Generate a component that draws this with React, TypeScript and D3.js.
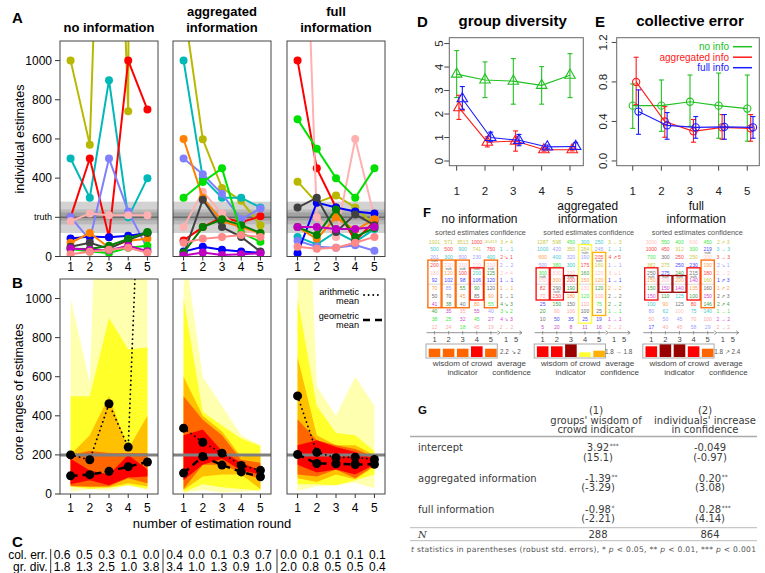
import * as d3 from "d3";

const FONT = "'Liberation Sans', Arial, Helvetica, sans-serif";
const FONT_G = "'DejaVu Sans', 'Liberation Sans', sans-serif";

// ---------- data ----------
const rounds = [1, 2, 3, 4, 5];
const groupTitles = [["no information"], ["aggregated", "information"], ["full", "information"]];
// olive, cyan, red, lavender, pink, blue, orange, dark gray, dark green, green, magenta, salmon
const personColors = ["#b8b800", "#00b8b8", "#ff0000", "#8080ff", "#ffb0b0", "#0000ff",
  "#ff8000", "#404040", "#008000", "#00e000", "#c000c0", "#ff8888"];

const estNoInfo = [
  [1001, 571, 3513, 741, 30413],
  [500, 300, 900, 200, 400],
  [200, 500, 100, 1000, 750],
  [201, 85, 500, 230, 40],
  [180, 220, 210, 210, 210],
  [92, 102, 98, 106, 120],
  [70, 120, 45, 80, 90],
  [50, 70, 40, 85, 120],
  [40, 38, 55, 90, 125],
  [38, 25, 18, 45, 55],
  [41, 35, 32, 55, 27],
  [12, 24, 35, 45, 19],
];
const estAggInfo = [
  [1287, 598, 350, 284, 160],
  [1000, 400, 300, 300, 250],
  [82, 150, 200, 175, 205],
  [500, 420, 320, 190, 245],
  [150, 330, 220, 130, 120],
  [25, 50, 35, 25, 19],
  [600, 300, 180, 150, 120],
  [10, 290, 150, 100, 25],
  [20, 150, 190, 160, 120],
  [300, 380, 450, 120, 75],
  [5, 20, 8, 11, 16],
  [70, 90, 100, 110, 100],
];
const estFullInfo = [
  [382, 275, 312, 250, 160],
  [100, 62, 125, 75, 140],
  [1000, 450, 250, 80, 180],
  [80, 50, 45, 58, 29],
  [3000, 200, 100, 600, 200],
  [17, 275, 250, 230, 219],
  [150, 90, 200, 135, 190],
  [250, 300, 125, 215, 160],
  [150, 110, 240, 100, 146],
  [700, 550, 400, 300, 450],
  [150, 150, 140, 140, 150],
  [50, 40, 45, 70, 100],
];
const truth = 200;
const truthBands = [[120, 280, "#d2d2d2"], [164, 240, "#bababa"], [184, 225, "#a2a2a2"]];
const coreBandColors = ["#ffffb0", "#ffff2a", "#ffc000", "#ff6600", "#ff0000"];

const arithNoInfo = [200, 175, 462, 240, 2700];
const arithAggInfo = [337, 265, 209, 146, 121];
const arithFullInfo = [502, 213, 186, 188, 177];
const geoNoInfo = [93, 99, 116, 140, 164];
const geoAggInfo = [107, 192, 148, 113, 88];
const geoFullInfo = [202, 156, 155, 151, 152];

const colErr = [[0.6, 0.5, 0.3, 0.1, 0.0], [0.4, 0.0, 0.1, 0.3, 0.7], [0.0, 0.1, 0.1, 0.1, 0.1]];
const grDiv = [[1.8, 1.3, 2.5, 1.0, 3.8], [3.4, 1.0, 1.3, 0.9, 1.0], [2.0, 0.8, 0.5, 0.5, 0.4]];

// D: group diversity
const divNoInfo = [3.7, 3.45, 3.4, 3.22, 3.65];
const divNoInfoLo = [2.7, 2.7, 2.42, 2.42, 2.7];
const divNoInfoHi = [4.7, 4.22, 4.36, 4.02, 4.57];
const divAggInfo = [2.27, 0.8, 0.85, 0.48, 0.48];
const divAggInfoLo = [1.77, 0.6, 0.42, 0.42, 0.43];
const divAggInfoHi = [2.8, 1.03, 1.28, 0.56, 0.55];
const divFullInfo = [2.65, 1.0, 0.88, 0.6, 0.62];
const divFullInfoLo = [2.2, 0.82, 0.65, 0.52, 0.5];
const divFullInfoHi = [3.17, 1.23, 1.13, 0.68, 0.78];

// E: collective error
const errNoInfo = [0.56, 0.56, 0.6, 0.56, 0.53];
const errNoInfoLo = [0.33, 0.3, 0.35, 0.23, 0.2];
const errNoInfoHi = [0.78, 0.82, 0.87, 0.89, 0.87];
const errAggInfo = [0.8, 0.4, 0.3, 0.34, 0.33];
const errAggInfoLo = [0.57, 0.24, 0.19, 0.22, 0.2];
const errAggInfoHi = [1.05, 0.55, 0.42, 0.47, 0.47];
const errFullInfo = [0.5, 0.36, 0.34, 0.345, 0.34];
const errFullInfoLo = [0.27, 0.22, 0.23, 0.22, 0.23];
const errFullInfoHi = [0.72, 0.49, 0.45, 0.47, 0.45];

const seriesColors = ["#22c022", "#ff1a1a", "#1a1aff"];
const legendLabels = ["no info", "aggregated info", "full info"];

// F: wisdom of crowd levels per round
const levelNoInfo = ["orange", "orange", "orange", "red", "orange"];
const levelAggInfo = ["red", "red", "darkred", "yellow", "gold"];
const levelFullInfo = ["red", "darkred", "darkred", "red", "orange"];
const confNoInfo = ["3 ↗ 4", "1 → 1", "2 ↘ 1", "2 → 2", "2 ↗ 4", "1 → 1", "1 → 1", "1 → 1", "4 ↘ 3", "3 ↘ 2", "4 ↘ 3", "2 → 2"];
const confAggInfo = ["3 → 3", "1 → 1", "4 ↗ 5", "1 → 1", "3 ↘ 1", "1 → 1", "2 → 2", "2 → 2", "2 → 2", "1 → 1", "1 → 1", "2 → 2"];
const confFullInfo = ["2 ↗ 3", "3 → 3", "3 → 3", "2 ↘ 1", "2 → 2", "1 ↗ 3", "1 ↗ 2", "2 ↗ 3", "2 ↗ 4", "1 → 1", "2 → 2", "2 → 2"];
const avgConf = ["2.2 ↘ 2", "1.8 → 1.8", "1.8 ↗ 2.4"];

// G: regression table
const gRowLabels = ["intercept", "aggregated information", "full information"];
const gCoef1 = ["3.92", "-1.39", "-0.98"];
const gStars1 = ["***", "**", "*"];
const gTstat1 = ["(15.1)", "(-3.29)", "(-2.21)"];
const gCoef2 = ["-0.049", "0.20", "0.28"];
const gStars2 = ["", "**", "***"];
const gTstat2 = ["(-0.97)", "(3.08)", "(4.14)"];
const gN = ["288", "864"];

// ---------- layout ----------
const groupsEst = [estNoInfo, estAggInfo, estFullInfo];
const groupsArith = [arithNoInfo, arithAggInfo, arithFullInfo];
const groupsGeo = [geoNoInfo, geoAggInfo, geoFullInfo];
const abLeft = [60, 173, 287];
const abWidth = 98;
const aTop = 41, aBottom = 256.5, bTop = 279, bBottom = 494;

const levelRows: Record<string, number[]> = { yellow: [1, 10], gold: [2, 9], orange: [3, 8], red: [4, 7], darkred: [5, 6] };
const levelColor: Record<string, string> = { yellow: "#ffff33", gold: "#ffb000", orange: "#ff6600", red: "#ff0000", darkred: "#990000" };
const levelHeight: Record<string, number> = { yellow: 4.7, gold: 6.3, orange: 8.3, red: 10.7, darkred: 13 };

function sortedByRound(est: number[][]) {
  return rounds.map((_, r) =>
    est.map((p, i) => ({ v: p[r], i })).sort((a, b) => b.v - a.v)
  );
}

// rough width of a number string in DejaVu Sans
function numWidth(s: string, size: number) {
  let w = 0;
  for (const ch of s) w += ch === "." ? 0.318 : ch === "-" ? 0.361 : 0.636;
  return w * size;
}

function PanelsAB() {
  const yA = d3.scaleLinear().domain([0, 1100]).range([aBottom, aTop]);
  const yB = d3.scaleLinear().domain([0, 1100]).range([bBottom, bTop]);
  return (
    <g>
      <text x={12} y={23} fontSize={15} fontWeight="bold">A</text>
      <text x={12} y={288} fontSize={15} fontWeight="bold">B</text>
      <text transform={`translate(20,139) rotate(-90)`} textAnchor="middle" dominantBaseline="central" fontSize={12.5}>individual estimates</text>
      <text transform={`translate(19,392) rotate(-90)`} textAnchor="middle" dominantBaseline="central" fontSize={12.5}>core ranges of estimates</text>
      <text x={212} y={528} textAnchor="middle" fontSize={13}>number of estimation round</text>
      {[0, 400, 600, 800, 1000].map(t => (
        <g key={"ya" + t}>
          <line x1={55} x2={60} y1={yA(t)} y2={yA(t)} stroke="#333" />
          <text x={52} y={yA(t)} textAnchor="end" dominantBaseline="central" fontSize={12}>{t}</text>
        </g>
      ))}
      <line x1={55} x2={60} y1={yA(truth)} y2={yA(truth)} stroke="#333" />
      <text x={52} y={yA(truth)} textAnchor="end" dominantBaseline="central" fontSize={9}>truth</text>
      {[0, 200, 400, 600, 800, 1000].map(t => (
        <g key={"yb" + t}>
          <line x1={55} x2={60} y1={yB(t)} y2={yB(t)} stroke="#333" />
          <text x={52} y={yB(t)} textAnchor="end" dominantBaseline="central" fontSize={12}>{t}</text>
        </g>
      ))}
      {abLeft.map((left, g) => {
        const x = d3.scaleLinear().domain([0.45, 5.55]).range([left, left + abWidth]);
        const est = groupsEst[g];
        const lineA = d3.line<number>().x((_, i) => x(rounds[i])).y(v => yA(v));
        const sorted = sortedByRound(est).map(s => s.map(d => d.v));
        const lineB = d3.line<number>().x((_, i) => x(rounds[i])).y(v => yB(v));
        const title = groupTitles[g];
        return (
          <g key={g}>
            <defs>
              <clipPath id={"clipA" + g}><rect x={left} y={aTop} width={abWidth} height={aBottom - aTop} /></clipPath>
              <clipPath id={"clipB" + g}><rect x={left} y={bTop} width={abWidth} height={bBottom - bTop} /></clipPath>
            </defs>
            {title.map((t, k) => (
              <text key={k} x={left + abWidth / 2} y={title.length === 1 ? 32 : 16 + 16 * k}
                textAnchor="middle" fontSize={13} fontWeight="bold">{t}</text>
            ))}
            <g clipPath={`url(#clipA${g})`}>
              {truthBands.map((b, k) => (
                <rect key={k} x={left} width={abWidth} y={yA(b[1] as number)}
                  height={yA(b[0] as number) - yA(b[1] as number)} fill={b[2] as string} />
              ))}
              <line x1={left} x2={left + abWidth} y1={yA(truth)} y2={yA(truth)} stroke="#6a6a6a" strokeWidth={1.5} />
              {est.map((p, i) => (
                <g key={i}>
                  <path d={lineA(p) ?? ""} fill="none" stroke={personColors[i]} strokeWidth={2} />
                  {p.map((v, r) => (
                    <circle key={r} cx={x(rounds[r])} cy={yA(v)} r={4} fill={personColors[i]} />
                  ))}
                </g>
              ))}
            </g>
            <rect x={left} y={aTop} width={abWidth} height={aBottom - aTop} fill="none" stroke="#444" />
            {rounds.map(r => (
              <g key={r}>
                <line x1={x(r)} x2={x(r)} y1={aBottom} y2={aBottom + 4} stroke="#333" />
                <text x={x(r)} y={270.5} textAnchor="middle" fontSize={12}>{r}</text>
              </g>
            ))}
            <g clipPath={`url(#clipB${g})`}>
              {coreBandColors.map((c, k) => {
                const area = d3.area<number[]>()
                  .x((_, r) => x(rounds[r]))
                  .y0(s => yB(s[11 - k]))
                  .y1(s => yB(s[k]));
                return <path key={k} d={area(sorted) ?? ""} fill={c} />;
              })}
              <line x1={left} x2={left + abWidth} y1={yB(truth)} y2={yB(truth)} stroke="#808080" strokeWidth={3} />
              <path d={lineB(groupsArith[g]) ?? ""} fill="none" stroke="#000" strokeWidth={1.8}
                strokeDasharray="0.1,4.5" strokeLinecap="round" />
              <path d={lineB(groupsGeo[g]) ?? ""} fill="none" stroke="#000" strokeWidth={2.5}
                strokeDasharray="7,5" />
              {groupsArith[g].map((v, r) => v <= 1100 ? (
                <circle key={"a" + r} cx={x(rounds[r])} cy={yB(v)} r={4.5} fill="#000" />
              ) : null)}
              {groupsGeo[g].map((v, r) => (
                <circle key={"g" + r} cx={x(rounds[r])} cy={yB(v)} r={4.5} fill="#000" />
              ))}
            </g>
            <rect x={left} y={bTop} width={abWidth} height={bBottom - bTop} fill="none" stroke="#444" />
            {rounds.map(r => (
              <g key={r}>
                <line x1={x(r)} x2={x(r)} y1={bBottom} y2={bBottom + 4} stroke="#333" />
                <text x={x(r)} y={512} textAnchor="middle" fontSize={12}>{r}</text>
              </g>
            ))}
          </g>
        );
      })}
      <g fontSize={9.2} textAnchor="end">
        <text x={359} y={294.5}>arithmetic</text>
        <text x={359} y={303.8}>mean</text>
        <text x={359} y={318.5}>geometric</text>
        <text x={359} y={327.8}>mean</text>
      </g>
      <line x1={364} x2={378} y1={295} y2={295} stroke="#000" strokeWidth={1.8} strokeDasharray="0.1,4.5" strokeLinecap="round" />
      <line x1={363} x2={386} y1={320} y2={320} stroke="#000" strokeWidth={2.5} strokeDasharray="7,5" />
    </g>
  );
}

function PanelC() {
  const seps = [50.7, 163, 277];
  return (
    <g fontSize={12}>
      <text x={12} y={547} fontSize={15} fontWeight="bold">C</text>
      <text x={47.5} y={559} textAnchor="end">col. err.</text>
      <text x={47.5} y={571} textAnchor="end">gr. div.</text>
      {seps.map((s, g) => {
        const xc = d3.scaleLinear().domain([0, 4]).range([s + 11.5, s + 11.5 + 4 * 22.2]);
        return (
          <g key={g}>
            <line x1={s} x2={s} y1={549} y2={573} stroke="#333" />
            {colErr[g].map((v, i) => (
              <text key={"c" + i} x={xc(i)} y={559} textAnchor="middle">{v.toFixed(1)}</text>
            ))}
            {grDiv[g].map((v, i) => (
              <text key={"d" + i} x={xc(i)} y={571} textAnchor="middle">{v.toFixed(1)}</text>
            ))}
          </g>
        );
      })}
    </g>
  );
}

interface Series { mean: number[]; lo: number[]; hi: number[]; color: string; offset: number }

function ErrPanel(props: {
  x0: number; x1: number; xDomain: number[]; yDomain: number[]; yTicks: number[];
  yFmt: (v: number) => string; labelX: number; series: Series[]; triangle: boolean;
  title: string; letter: string; letterX: number; titleX: number;
}) {
  const y0 = 165.7, y1 = 37.7;
  const x = d3.scaleLinear().domain(props.xDomain).range([props.x0, props.x1]);
  const y = d3.scaleLinear().domain(props.yDomain).range([y0, y1]);
  const tri = d3.symbol(d3.symbolTriangle, 48)() ?? "";
  return (
    <g>
      <text x={props.letterX} y={27} fontSize={15} fontWeight="bold">{props.letter}</text>
      <text x={props.titleX} y={26} fontSize={15} fontWeight="bold" textAnchor="middle">{props.title}</text>
      {props.yTicks.map(t => (
        <g key={t}>
          <line x1={props.x0 - 5} x2={props.x0} y1={y(t)} y2={y(t)} stroke="#444" />
          <text transform={`translate(${props.labelX},${y(t)}) rotate(-90)`} textAnchor="middle"
            dominantBaseline="central" fontSize={11.5} fill="#222">{props.yFmt(t)}</text>
        </g>
      ))}
      {rounds.map(r => (
        <g key={r}>
          <line x1={x(r)} x2={x(r)} y1={y0} y2={y0 + 5} stroke="#444" />
          <text x={x(r)} y={194.5} textAnchor="middle" fontSize={11.5} fill="#222">{r}</text>
        </g>
      ))}
      {props.series.map((s, k) => {
        const line = d3.line<number>().x((_, i) => x(rounds[i] + s.offset)).y(v => y(v));
        return (
          <g key={k} stroke={s.color} fill="none" strokeWidth={1.1}>
            <path d={line(s.mean) ?? ""} />
            {s.mean.map((v, i) => {
              const cx = x(rounds[i] + s.offset);
              return (
                <g key={i}>
                  <line x1={cx} x2={cx} y1={y(s.lo[i])} y2={y(s.hi[i])} />
                  <line x1={cx - 2.5} x2={cx + 2.5} y1={y(s.lo[i])} y2={y(s.lo[i])} />
                  <line x1={cx - 2.5} x2={cx + 2.5} y1={y(s.hi[i])} y2={y(s.hi[i])} />
                  {props.triangle
                    ? <path d={tri} transform={`translate(${cx},${y(v)})`} />
                    : <circle cx={cx} cy={y(v)} r={3.6} />}
                </g>
              );
            })}
          </g>
        );
      })}
      <rect x={props.x0} y={y1} width={props.x1 - props.x0} height={y0 - y1} fill="none" stroke="#666" />
    </g>
  );
}

function PanelDE() {
  const dSeries: Series[] = [
    { mean: divNoInfo, lo: divNoInfoLo, hi: divNoInfoHi, color: seriesColors[0], offset: 0 },
    { mean: divAggInfo, lo: divAggInfoLo, hi: divAggInfoHi, color: seriesColors[1], offset: 0.08 },
    { mean: divFullInfo, lo: divFullInfoLo, hi: divFullInfoHi, color: seriesColors[2], offset: 0.2 },
  ];
  const eSeries: Series[] = [
    { mean: errNoInfo, lo: errNoInfoLo, hi: errNoInfoHi, color: seriesColors[0], offset: 0 },
    { mean: errAggInfo, lo: errAggInfoLo, hi: errAggInfoHi, color: seriesColors[1], offset: 0.12 },
    { mean: errFullInfo, lo: errFullInfoLo, hi: errFullInfoHi, color: seriesColors[2], offset: 0.2 },
  ];
  return (
    <g>
      <ErrPanel x0={449.3} x1={583.3} xDomain={[0.74, 5.47]} yDomain={[-0.2, 5.25]} yTicks={[0, 1, 2, 3, 4, 5]}
        yFmt={v => String(v)} labelX={438.5} series={dSeries} triangle={true}
        title="group diversity" letter="D" letterX={417} titleX={512.7} />
      <ErrPanel x0={616.7} x1={759.3} xDomain={[0.44, 5.42]} yDomain={[-0.048, 1.248]} yTicks={[0, 0.4, 0.8, 1.2]}
        yFmt={v => v.toFixed(1)} labelX={602.5} series={eSeries} triangle={false}
        title="collective error" letter="E" letterX={595} titleX={690} />
      {legendLabels.map((l, i) => (
        <g key={l}>
          <text x={729} y={46.7 + i * 10.5} textAnchor="end" dominantBaseline="central" fontSize={10} fill={seriesColors[i]}>{l}</text>
          <line x1={733} x2={752} y1={46.7 + i * 10.5} y2={46.7 + i * 10.5} stroke={seriesColors[i]} strokeWidth={1.5} />
        </g>
      ))}
    </g>
  );
}

function PanelF() {
  const fGroupX = [434.5, 542.7, 651.3];
  const fColStep = 14.1;
  const fRowY0 = 241.7, fRowStep = 7.73;
  const levels = [levelNoInfo, levelAggInfo, levelFullInfo];
  const confs = [confNoInfo, confAggInfo, confFullInfo];
  return (
    <g>
      <text x={423} y={217} fontSize={13} fontWeight="bold">F</text>
      {groupsEst.map((est, g) => {
        const gx = fGroupX[g];
        const colX = d3.scaleLinear().domain([1, 5]).range([gx, gx + 4 * fColStep]);
        const rowY = d3.scaleLinear().domain([0, 11]).range([fRowY0, fRowY0 + 11 * fRowStep]);
        const sorted = sortedByRound(est);
        const title = groupTitles[g];
        return (
          <g key={g}>
            {title.map((t, k) => (
              <text key={k} x={gx + 45} y={title.length === 1 ? 223 : 210 + 13 * k}
                textAnchor="middle" fontSize={12} fill="#111">{t}</text>
            ))}
            <text x={gx + 46} y={234.5} textAnchor="middle" fontSize={7.3} fill="#555">sorted estimates confidence</text>
            <line x1={colX(1) - 7} x2={colX(5) + 7} y1={(rowY(5) + rowY(6)) / 2} y2={(rowY(5) + rowY(6)) / 2}
              stroke="#cfcfcf" strokeWidth={0.8} />
            {sorted.map((col, r) => {
              const nAbove = col.filter(d => d.v > truth).length;
              const lv = levels[g][r];
              const [ra, rb] = levelRows[lv];
              return (
                <g key={r}>
                  {col.map((d, k) => (
                    <text key={k} x={colX(rounds[r])} y={rowY(k)} textAnchor="middle" dominantBaseline="central"
                      fontSize={d.v >= 10000 ? 4.4 : 5.1} fill={personColors[d.i]} opacity={0.75}>{d.v}</text>
                  ))}
                  <text x={colX(rounds[r])} y={rowY(nAbove - 1) + 4} textAnchor="middle"
                    dominantBaseline="central" fontSize={3.2} fill="#555">truth</text>
                  <rect x={colX(rounds[r]) - 6.6} width={13.2} y={rowY(ra) - 4.8} height={rowY(rb) - rowY(ra) + 9}
                    fill="none" stroke={levelColor[lv]} strokeWidth={1.3} />
                  <line x1={colX(rounds[r])} x2={colX(rounds[r])} y1={331} y2={334.5} stroke="#666" strokeWidth={0.6} />
                  <text x={colX(rounds[r])} y={341.5} textAnchor="middle" fontSize={7.5} fill="#444">{rounds[r]}</text>
                  <rect x={colX(rounds[r]) - 5.8} width={11.6} y={357 - levelHeight[lv]} height={levelHeight[lv]} fill={levelColor[lv]} />
                </g>
              );
            })}
            {confs[g].map((c, k) => (
              <text key={k} x={gx + 72} y={rowY(k)} textAnchor="middle" dominantBaseline="central"
                fontSize={5.1} fill={personColors[k]} opacity={0.75}>{c}</text>
            ))}
            <line x1={gx - 8} x2={gx + 63} y1={332.7} y2={332.7} stroke="#666" strokeWidth={0.7} />
            <path d={`M${gx + 63},330.9 L${gx + 65.5},332.7 L${gx + 63},334.5`} fill="none" stroke="#666" strokeWidth={0.7} />
            <line x1={gx + 66} x2={gx + 87} y1={332.7} y2={332.7} stroke="#666" strokeWidth={0.7} />
            <path d={`M${gx + 85},330.9 L${gx + 87.5},332.7 L${gx + 85},334.5`} fill="none" stroke="#666" strokeWidth={0.7} />
            <text x={gx + 71.5} y={341.5} textAnchor="middle" fontSize={7.5} fill="#444">1</text>
            <text x={gx + 81.5} y={341.5} textAnchor="middle" fontSize={7.5} fill="#444">5</text>
            <rect x={gx - 8.5} y={344} width={71.3} height={14} fill="none" stroke="#aaa" strokeWidth={1} />
            <text x={gx + 76} y={354} textAnchor="middle" fontSize={6.3} fill="#555">{avgConf[g]}</text>
            <text x={gx + 28} y={366} textAnchor="middle" fontSize={8} fill="#444">wisdom of crowd</text>
            <text x={gx + 28} y={374.5} textAnchor="middle" fontSize={8} fill="#444">indicator</text>
            <text x={gx + 77} y={366} textAnchor="middle" fontSize={8} fill="#444">average</text>
            <text x={gx + 77} y={374.5} textAnchor="middle" fontSize={8} fill="#444">confidence</text>
          </g>
        );
      })}
    </g>
  );
}

function PanelG() {
  const c1 = 598, c2 = 710;
  const fs = 10;
  const rowBase = [451.3, 482, 513];
  return (
    <g fontSize={fs} fill="#3a3a3a" fontFamily={FONT_G}>
      <text x={418} y={413.5} fontSize={11.5} fontWeight="bold" fill="#111" fontFamily={FONT}>G</text>
      <text x={c1 - 2} y={414} textAnchor="middle">(1)</text>
      <text x={c1 - 2} y={423.5} textAnchor="middle">groups' wisdom of</text>
      <text x={c1 - 2} y={433} textAnchor="middle">crowd indicator</text>
      <text x={c2 - 5} y={414} textAnchor="middle">(2)</text>
      <text x={c2 - 5} y={423.5} textAnchor="middle">individuals' increase</text>
      <text x={c2 - 5} y={433} textAnchor="middle">in confidence</text>
      <line x1={410} x2={757} y1={436.5} y2={436.5} stroke="#aaa" strokeWidth={1.5} />
      {gRowLabels.map((l, i) => (
        <g key={l}>
          <text x={418} y={rowBase[i]}>{l}</text>
          <text x={c1} y={rowBase[i]} textAnchor="middle">{gCoef1[i]}</text>
          <text x={c1 + numWidth(gCoef1[i], fs) / 2 + 0.5} y={rowBase[i] - 3.5} fontSize={6}>{gStars1[i]}</text>
          <text x={c1} y={rowBase[i] + 9.3} textAnchor="middle">{gTstat1[i]}</text>
          <text x={c2} y={rowBase[i]} textAnchor="middle">{gCoef2[i]}</text>
          <text x={c2 + numWidth(gCoef2[i], fs) / 2 + 0.5} y={rowBase[i] - 3.5} fontSize={6}>{gStars2[i]}</text>
          <text x={c2} y={rowBase[i] + 9.3} textAnchor="middle">{gTstat2[i]}</text>
        </g>
      ))}
      <line x1={410} x2={757} y1={527.7} y2={527.7} stroke="#bbb" strokeWidth={1} />
      <text x={418} y={537.8} fontStyle="italic" fontFamily="'DejaVu Serif', serif">N</text>
      <text x={c1} y={537.8} textAnchor="middle">{gN[0]}</text>
      <text x={c2} y={537.8} textAnchor="middle">{gN[1]}</text>
      <line x1={410} x2={757} y1={540.7} y2={540.7} stroke="#bbb" strokeWidth={1} />
      <text x={411} y={551.5} fontSize={7.6} fill="#555" textLength={345} lengthAdjust="spacing">
        <tspan fontStyle="italic">t</tspan> statistics in parentheses (robust std. errors), * <tspan fontStyle="italic">p</tspan> &lt; 0.05, ** <tspan fontStyle="italic">p</tspan> &lt; 0.01, *** <tspan fontStyle="italic">p</tspan> &lt; 0.001
      </text>
    </g>
  );
}

export default function App() {
  return (
    <svg width={765} height={573} fontFamily={FONT}
      style={{ position: "absolute", left: 0, top: 0, background: "#fff" }}>
      <rect width={765} height={573} fill="#fff" />
      <PanelsAB />
      <PanelC />
      <PanelDE />
      <PanelF />
      <PanelG />
    </svg>
  );
}
